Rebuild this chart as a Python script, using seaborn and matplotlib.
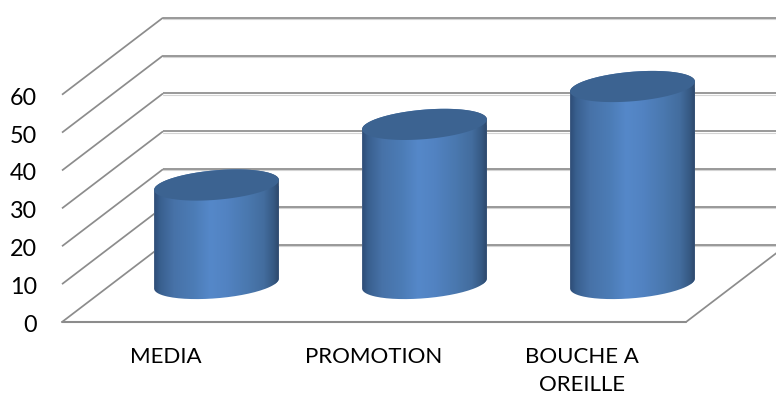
import numpy as np
import pandas as pd
import matplotlib
matplotlib.use("Agg")
import matplotlib.pyplot as plt
from matplotlib.colors import LinearSegmentedColormap
from matplotlib.patches import PathPatch
from matplotlib.path import Path
from matplotlib.transforms import Affine2D
import seaborn as sns

categories = ["MEDIA", "PROMOTION", "BOUCHE A\nOREILLE"]
values = [26, 42, 52]
y_ticks = [0, 10, 20, 30, 40, 50, 60]

sns.set_theme(style="white")
plt.rcParams["font.family"] = ["Lato", "DejaVu Sans"]

W, H = 776, 397
fig = plt.figure(figsize=(W / 100, H / 100), dpi=100, facecolor="white")
# Front plane of the box: the value axis and the category axis live here.
ax = fig.add_axes([62 / W, (H - 322) / H, 624 / W, (322 - 94.7) / H])

df = pd.DataFrame({"category": categories, "value": values})
sns.barplot(data=df, x="category", y="value", ax=ax, width=0.6,
            color="#4f81bd", saturation=1, zorder=3)
ax.set_xlim(-0.5, 2.5)
ax.set_ylim(0, 60)
ax.autoscale(False)

# Depth of the box in pixels; the columns stand halfway along it.
DX, DY = 101, 77
back = ax.transData + Affine2D().translate(DX, DY)
middle = ax.transData + Affine2D().translate(DX / 2, DY / 2)

GRID = "#8c8c8c"
grid_kw = dict(color=GRID, lw=1.25, clip_on=False, zorder=1, solid_capstyle="butt")
for v in y_ticks:
    x0, y0 = ax.transData.transform((-0.5, v))
    # Side wall diagonal and back wall rule for every tick.
    ax.plot([x0, x0 + DX], [y0, y0 + DY], transform=None, **grid_kw)
    ax.plot([-0.5, 2.5], [v, v], transform=back, **grid_kw)
    ax.plot([-0.5, 2.5], [v, v], transform=back + Affine2D().translate(0, -1.2),
            color="#d4d4d4", lw=0.8, clip_on=False, zorder=0.9)
# Floor edges.
ax.plot([-0.5, 2.5], [0, 0], color=GRID, lw=1.5, clip_on=False, zorder=1)
xr, yr = ax.transData.transform((2.5, 0))
ax.plot([xr, xr + DX], [yr, yr + DY], transform=None, **grid_kw)

shade = LinearSegmentedColormap.from_list(
    "cyl",
    [(0.0, "#2e4d76"), (0.05, "#39608f"), (0.16, "#4772a8"), (0.32, "#4c7cb6"),
     (0.45, "#5588c9"), (0.58, "#5283c2"), (0.75, "#4a78af"), (0.88, "#436d9e"),
     (0.96, "#365983"), (1.0, "#2e486b")],
)
ramp = np.linspace(0, 1, 256)[None, :]

RY, TILT = 3.9, 1.32  # ellipse half height and slant, in value units
t_back = np.linspace(np.pi, 0, 80)
t_front = np.linspace(0, -np.pi, 80)

for bar in list(ax.patches):
    x_left, w, h = bar.get_x(), bar.get_width(), bar.get_height()
    cx = x_left + w / 2

    def rim(t, level):
        return np.column_stack([cx + w / 2 * np.cos(t),
                                level + TILT * np.cos(t) + RY * np.sin(t)])

    body = np.vstack([rim(t_back, h), rim(t_front, 0), rim(t_back[:1], h)])
    clip = PathPatch(Path(body), transform=middle)
    bar.set_transform(middle)
    bar.set_clip_box(fig.bbox)
    bar.set_clip_path(clip)

    im = ax.imshow(ramp, cmap=shade, aspect="auto", interpolation="bilinear",
                   extent=(x_left, x_left + w, -RY - TILT, h + RY + TILT),
                   transform=middle, zorder=3.1)
    im.set_clip_box(fig.bbox)
    im.set_clip_path(clip)

    lid = rim(np.linspace(0, 2 * np.pi, 160), h)
    ax.fill(lid[:, 0], lid[:, 1], color="#3c6391", lw=0, transform=middle,
            clip_on=False, zorder=3.2)

ax.set_xlim(-0.5, 2.5)
ax.set_ylim(0, 60)
sns.despine(ax=ax, left=True, bottom=True, top=True, right=True)
ax.set_xlabel("")
ax.set_ylabel("")
ax.set_yticks(y_ticks)
ax.set_yticklabels([str(v) for v in y_ticks])
ax.tick_params(axis="y", length=0, pad=18, labelsize=16.8, labelcolor="black")
ax.tick_params(axis="x", length=0, pad=18.2, labelsize=16, labelcolor="black")
for lab in ax.get_xticklabels():
    lab.set_linespacing(1.5)
    lab.set_verticalalignment("top")
# Nudge the value labels down so they sit level with the diagonal's start.
for lab in ax.get_yticklabels():
    lab.set_transform(lab.get_transform() + Affine2D().translate(0, -1.5))

fig.savefig("out.png", dpi=100, facecolor="white")
